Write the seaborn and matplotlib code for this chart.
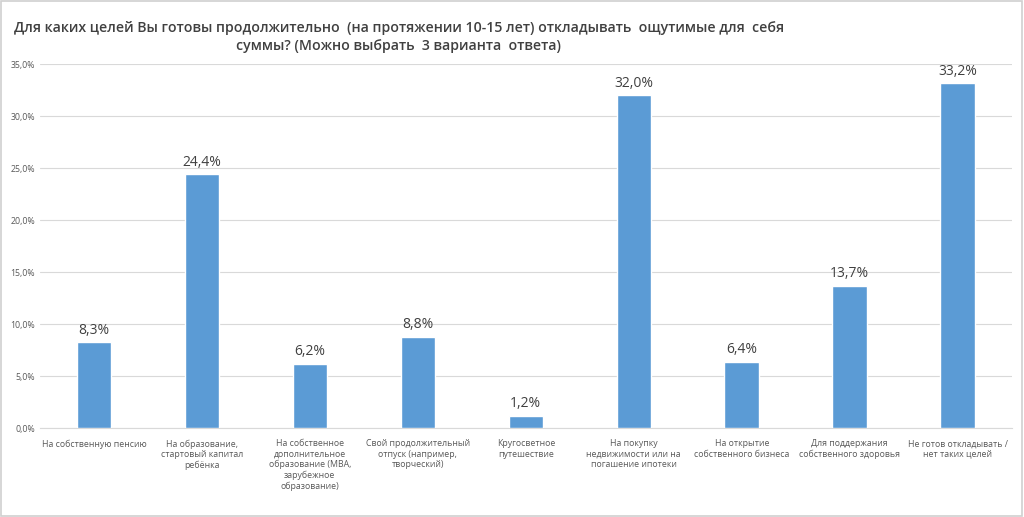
import matplotlib
matplotlib.use("Agg")
import matplotlib.pyplot as plt
import seaborn as sns
import pandas as pd
from matplotlib.ticker import FuncFormatter
from matplotlib.patches import Rectangle

categories = [
    "На собственную пенсию",
    "На образование,\nстартовый капитал\nребёнка",
    "На собственное\nдополнительное\nобразование (MBA,\nзарубежное\nобразование)",
    "Свой продолжительный\nотпуск (например,\nтворческий)",
    "Кругосветное\nпутешествие",
    "На покупку\nнедвижимости или на\nпогашение ипотеки",
    "На открытие\nсобственного бизнеса",
    "Для поддержания\nсобственного здоровья",
    "Не готов откладывать /\nнет таких целей",
]
values = [0.083, 0.244, 0.062, 0.088, 0.012, 0.320, 0.064, 0.137, 0.332]
yticks = [0, 0.05, 0.10, 0.15, 0.20, 0.25, 0.30, 0.35]

title = ("Для каких целей Вы готовы продолжительно  (на протяжении 10-15 лет) откладывать  ощутимые для  себя\n"
         "суммы? (Можно выбрать  3 варианта  ответа)")

df = pd.DataFrame({"goal": categories, "share": values})

sns.set_style("white")
plt.rcParams["font.family"] = ["Open Sans", "DejaVu Sans"]

fig = plt.figure(figsize=(10.24, 5.17), dpi=100)
ax = fig.add_axes([0.039, 0.172, 0.949, 0.704])

sns.barplot(data=df, x="goal", y="share", color="#5B9BD5", width=0.32,
            saturation=1, ax=ax, zorder=3)

ax.set_ylim(0, 0.35)
ax.set_yticks(yticks)
ax.yaxis.set_major_formatter(FuncFormatter(lambda v, p: f"{v*100:.1f}%".replace(".", ",")))
ax.grid(axis="y", color="#D9D9D9", linewidth=0.8, zorder=0)
for s in ["top", "right", "left"]:
    ax.spines[s].set_visible(False)
ax.spines["bottom"].set_color("#D9D9D9")
ax.set_xlabel("")
ax.set_ylabel("")
ax.tick_params(axis="both", length=0, labelsize=6.3, labelcolor="#595959")
ax.tick_params(axis="x", pad=8)
for lbl in ax.get_xticklabels():
    lbl.set_verticalalignment("top")
    lbl.set_multialignment("center")

for i, v in enumerate(values):
    ax.text(i, v + 0.004, f"{v*100:.1f}%".replace(".", ","), ha="center", va="bottom",
            fontsize=10, color="#404040")

fig.text(399 / 1024, 1 - 37 / 517, title, ha="center", va="center", fontsize=10.2,
         fontweight="semibold", color="#404040", multialignment="center", linespacing=1.3)

fig.patches.append(Rectangle((0.001, 0.002), 0.997, 0.996, transform=fig.transFigure,
                             fill=False, edgecolor="#D0D0D0", linewidth=1.2))

plt.savefig("out.png", dpi=100)
plt.close()
